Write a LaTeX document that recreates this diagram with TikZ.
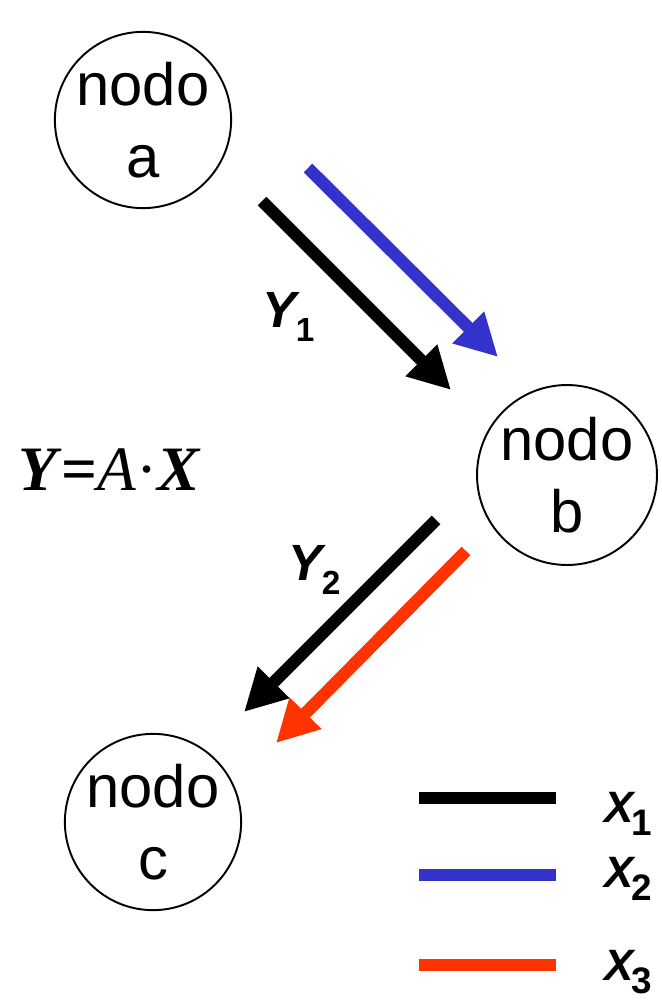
\documentclass[tikz,border=0pt]{standalone}
\usepackage{fontspec}
\setmainfont{Liberation Sans}
\newfontfamily\eqfont{Liberation Serif}
\usetikzlibrary{arrows.meta}
\definecolor{flowblue}{RGB}{51,51,204}
\definecolor{flowred}{RGB}{255,51,0}
% symbol with lowered subscript: {letter}{index}{size}{index size}{drop}
\newcommand{\symsub}[5]{\fontsize{#3}{#3}\selectfont\textbf{\textit{#1}}\kern-2.5pt\raisebox{-#5}{\fontsize{#4}{#4}\selectfont\textbf{#2}}}

\tikzset{
  nodo/.style={circle,draw,line width=1.1pt,inner sep=0pt,align=center,
    font=\fontsize{34}{41}\selectfont},
  flow/.style={line width=7pt,-{Triangle[length=0.84cm,width=0.84cm]}},
  legline/.style={line width=6.3pt},
  lbl/.style={anchor=base west,inner sep=0pt}
}

\begin{document}
\begin{tikzpicture}[x=0.02cm,y=-0.02cm]
\useasboundingbox (0,0) rectangle (662,1000);
% nodes
\node[nodo,minimum size=3.24cm] (na) at (143,120) {nodo\\a};
\node[nodo,minimum size=3.6cm] (nb) at (567,475) {nodo\\b};
\node[nodo,minimum size=3.32cm] (nc) at (153,822) {nodo\\c};
% arrow ends
\coordinate (y1s) at (262,201);
\coordinate (y1e) at (451,390);
\coordinate (x2s) at (308,168);
\coordinate (x2e) at (498,357);
\coordinate (y2s) at (436,520);
\coordinate (y2e) at (244,712);
\coordinate (x3s) at (466,551);
\coordinate (x3e) at (276,743);
\draw[flow] (y1s) -- (y1e);
\draw[flow,flowblue] (x2s) -- (x2e);
\draw[flow] (y2s) -- (y2e);
\draw[flow,flowred] (x3s) -- (x3e);
\node[lbl] (ly1) at (262,327) {\symsub{Y}{1}{29pt}{19pt}{8.5pt}};
\node[lbl] (ly2) at (288,580) {\symsub{Y}{2}{29pt}{19pt}{8.5pt}};
% equation
\node[lbl] (eq) at (18,490) {\eqfont\fontsize{36}{36}\selectfont\textbf{\textit{Y}}\textbf{=}\textit{A}·\textbf{\textit{X}}};
% legend
\coordinate (k1a) at (419,798); \coordinate (k1b) at (556,798);
\coordinate (k2a) at (419,875); \coordinate (k2b) at (556,875);
\coordinate (k3a) at (419,965); \coordinate (k3b) at (556,965);
\draw[legline] (k1a) -- (k1b);
\draw[legline,flowblue] (k2a) -- (k2b);
\draw[legline,flowred] (k3a) -- (k3b);
\node[lbl] (lx1) at (604,822) {\symsub{X}{1}{25pt}{21pt}{7.5pt}};
\node[lbl] (lx2) at (604,887) {\symsub{X}{2}{25pt}{21pt}{7.5pt}};
\node[lbl] (lx3) at (604,980) {\symsub{X}{3}{25pt}{21pt}{7.5pt}};
\end{tikzpicture}
\end{document}
